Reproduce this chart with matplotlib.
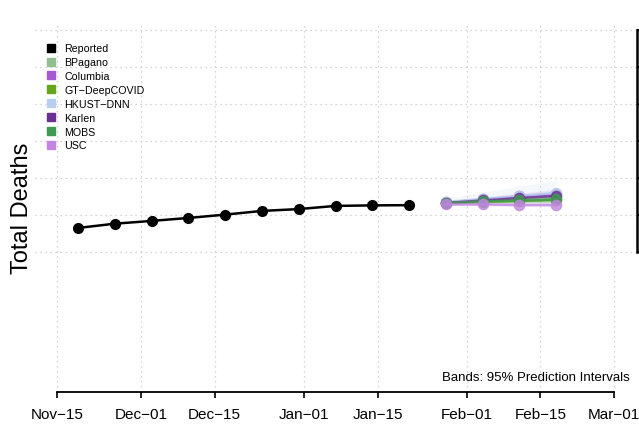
import datetime as dt
import matplotlib
matplotlib.use("Agg")
import matplotlib.pyplot as plt
import matplotlib.dates as mdates
from matplotlib.lines import Line2D

plt.rcParams['font.family'] = ['Liberation Sans', 'DejaVu Sans']

# reported weekly cumulative deaths
reported_dates = ["2020-11-19", "2020-11-26", "2020-12-03", "2020-12-10", "2020-12-17",
                  "2020-12-24", "2020-12-31", "2021-01-07", "2021-01-14", "2021-01-21"]
reported = [10650, 10765, 10840, 10920, 11010, 11110, 11160, 11245, 11260, 11265]

# forecast horizon (4 weeks ahead)
fc_dates = ["2021-01-28", "2021-02-04", "2021-02-11", "2021-02-18"]

models = ["BPagano", "Columbia", "GT\u2212DeepCOVID", "HKUST\u2212DNN", "Karlen", "MOBS", "USC"]
colors = ["#8fbf8f", "#a65ad2", "#66a61e", "#b8cff0", "#6a3092", "#409a52", "#c286e2"]

bpagano_mid = [11324, 11378, 11432, 11473]
columbia_mid = [11338, 11419, 11500, 11568]
gt_mid = [11324, 11351, 11378, 11405]
hkust_mid = [11351, 11432, 11514, 11595]
karlen_mid = [11324, 11392, 11459, 11514]
mobs_mid = [11324, 11365, 11392, 11419]
usc_mid = [11284, 11284, 11270, 11270]

bpagano_lo = [11300, 11320, 11340, 11350]
bpagano_hi = [11350, 11430, 11510, 11590]
columbia_lo = [11310, 11360, 11410, 11450]
columbia_hi = [11370, 11480, 11590, 11690]
gt_lo = [11300, 11310, 11320, 11330]
gt_hi = [11350, 11400, 11440, 11490]
hkust_lo = [11270, 11280, 11290, 11300]
hkust_hi = [11460, 11620, 11780, 11920]
karlen_lo = [11300, 11340, 11370, 11400]
karlen_hi = [11350, 11440, 11540, 11630]
mobs_lo = [11300, 11320, 11330, 11340]
mobs_hi = [11350, 11410, 11460, 11500]
usc_lo = [11260, 11250, 11230, 11220]
usc_hi = [11310, 11320, 11320, 11330]

mids = [bpagano_mid, columbia_mid, gt_mid, hkust_mid, karlen_mid, mobs_mid, usc_mid]
los = [bpagano_lo, columbia_lo, gt_lo, hkust_lo, karlen_lo, mobs_lo, usc_lo]
his = [bpagano_hi, columbia_hi, gt_hi, hkust_hi, karlen_hi, mobs_hi, usc_hi]

tick_dates = ["2020-11-15", "2020-12-01", "2020-12-15", "2021-01-01",
              "2021-01-15", "2021-02-01", "2021-02-15", "2021-03-01"]
tick_labels = ["Nov\u221215", "Dec\u221201", "Dec\u221215", "Jan\u221201",
               "Jan\u221215", "Feb\u221201", "Feb\u221215", "Mar\u221201"]
y_ticks = [10000, 11000, 12000, 13000, 14000, 15000, 16000]


def to_num(dates):
    return [mdates.date2num(dt.datetime.strptime(d, "%Y-%m-%d")) for d in dates]


fig = plt.figure(figsize=(6.39, 4.27), dpi=100)
ax = fig.add_axes([35 / 639, 34 / 427, 602 / 639, 369 / 427])

rx = to_num(reported_dates)
fx = to_num(fc_dates)
tx = to_num(tick_dates)

# bands first
for lo, hi, c in zip(los, his, colors):
    ax.fill_between(fx, lo, hi, color=c, alpha=0.15, lw=0)

ax.plot(rx, reported, color="black", lw=1.8, marker="o", ms=7, zorder=5)

for mid, c in zip(mids, colors):
    ax.plot(fx, mid, color=c, lw=1.8, marker="o", ms=7.3, alpha=0.8, zorder=4)

x0 = tx[0]
ax.set_xlim(x0 - 4.19, x0 + 110.37)
ax.set_ylim(6216, 16189)

ax.set_xticks(tx)
ax.set_xticklabels(tick_labels, fontsize=11)
ax.set_yticks(y_ticks)
ax.yaxis.tick_right()
ax.tick_params(axis="y", labelright=False, direction="out", length=3, width=1.5)
ax.tick_params(axis="x", direction="out", length=4, width=1.2, pad=7)

for s in ["top", "left"]:
    ax.spines[s].set_visible(False)
ax.spines["bottom"].set_bounds(tx[0], tx[-1])
ax.spines["bottom"].set_linewidth(1.3)
ax.spines["right"].set_bounds(y_ticks[0], y_ticks[-1])
ax.spines["right"].set_linewidth(1.8)

ax.grid(True, color="#c8c8c8", linestyle=(0, (1, 3)), lw=0.9)
ax.set_axisbelow(True)

fig.text(22 / 639, 0.512, "Total Deaths", rotation=90, fontsize=17,
         ha="center", va="center")

ax.text(630 / 639, 1 - 378 / 427, "Bands: 95% Prediction Intervals", fontsize=9.5,
        ha="right", va="center", transform=fig.transFigure)

handles = [Line2D([], [], ls="", marker="s", ms=6, color="black")]
handles += [Line2D([], [], ls="", marker="s", ms=6, color=c) for c in colors]
labels = ["Reported"] + models
fig.legend(handles, labels, loc="upper left", bbox_to_anchor=(46 / 639, 1 - 44.5 / 427),
           frameon=False, fontsize=7.7, borderpad=0, borderaxespad=0,
           handlelength=1.0, handletextpad=0.7, labelspacing=0.36)

fig.savefig("out.png", dpi=100)
